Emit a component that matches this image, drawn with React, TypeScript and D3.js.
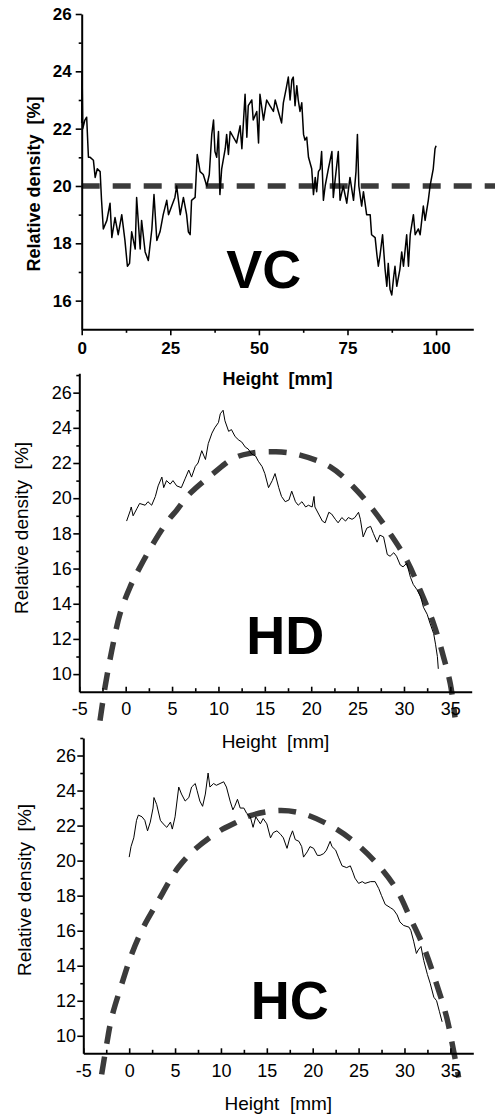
import React, { useEffect, useRef } from "react";
import * as d3 from "d3";

// density profiles: [height mm, relative density %]
const vcProfile = [
  [0, 22.2], [0.1, 24.0], [0.3, 22.0], [0.9, 22.3], [1.4, 22.4], [1.9, 21.0], [2.4, 21.0], [3.3, 20.9],
  [3.8, 20.3], [4.4, 20.6], [5.2, 20.5], [5.6, 19.5], [6.1, 18.5], [7.1, 18.8], [8.0, 19.4], [8.5, 18.2],
  [9.4, 18.9], [10.3, 18.3], [11.3, 19.0], [12.2, 18.1], [12.9, 17.2], [13.5, 17.3], [14.1, 18.4],
  [15.1, 17.8], [15.5, 19.6], [16.5, 17.8], [16.9, 18.8], [17.9, 17.7], [18.8, 17.4], [19.8, 18.5],
  [20.4, 19.7], [21.2, 18.1], [22.1, 18.4], [23.0, 19.0], [24.0, 19.5], [24.5, 19.0], [25.4, 19.3],
  [26.3, 19.6], [26.8, 20.0], [27.8, 19.0], [28.7, 19.6], [29.6, 19.0], [30.1, 18.4], [30.6, 18.3],
  [31.0, 19.5], [32.0, 19.6], [32.6, 21.1], [33.4, 20.5], [34.3, 20.4], [35.3, 20.0], [36.0, 20.4],
  [36.7, 21.8], [37.2, 22.3], [37.6, 21.2], [38.1, 21.0], [38.6, 21.9], [39.0, 19.7], [39.5, 20.6],
  [40.5, 21.3], [40.9, 21.8], [41.4, 21.1], [41.9, 21.9], [42.8, 21.7], [43.7, 21.5], [44.7, 22.1],
  [45.2, 21.3], [46.1, 23.2], [46.6, 21.7], [47.0, 22.8], [48.0, 23.0], [48.4, 22.3], [49.4, 22.6],
  [49.9, 21.5], [50.3, 23.2], [51.3, 22.3], [52.2, 23.0], [53.1, 22.8], [54.1, 22.6], [54.6, 23.0],
  [55.5, 22.6], [56.4, 22.2], [56.9, 22.9], [57.7, 23.4], [58.3, 23.8], [58.8, 23.0], [59.3, 23.7],
  [59.7, 23.8], [60.2, 22.8], [60.7, 23.5], [61.1, 23.0], [61.6, 22.6], [62.1, 22.9], [62.6, 21.8],
  [63.0, 21.6], [63.5, 21.7], [64.0, 21.0], [64.9, 20.6], [65.4, 19.7], [65.9, 20.3], [66.3, 19.8],
  [66.8, 20.5], [67.3, 20.6], [67.7, 21.2], [68.2, 19.5], [68.7, 20.0], [69.6, 20.6], [70.6, 21.2],
  [71.0, 19.6], [71.5, 20.2], [72.4, 21.2], [72.9, 19.5], [73.8, 20.0], [74.8, 19.4], [75.7, 20.3],
  [76.7, 19.5], [77.4, 20.5], [77.8, 21.8], [78.2, 20.0], [79.0, 19.3], [79.5, 19.8], [80.4, 19.0],
  [81.4, 19.0], [81.8, 18.3], [82.8, 18.2], [83.3, 17.6], [83.7, 17.2], [84.2, 17.6], [84.9, 18.3],
  [85.6, 17.1], [86.1, 16.5], [86.5, 17.3], [87.0, 16.4], [87.5, 16.2], [88.0, 16.8], [88.4, 17.2],
  [88.9, 16.5], [89.8, 17.1], [90.3, 17.7], [90.8, 17.2], [91.7, 18.3], [92.2, 17.2], [92.7, 18.3],
  [93.6, 19.0], [94.1, 18.3], [95.0, 18.5], [95.5, 18.3], [96.4, 19.3], [96.9, 18.8], [97.8, 19.5],
  [98.3, 20.0], [99.2, 20.6], [99.7, 21.3], [100, 21.4],
];

const hdProfile = [
  [0.1, 18.7], [0.5, 19.3], [0.6, 19.5], [0.8, 19.0], [1.2, 19.4], [1.5, 19.7], [2.1, 19.6], [2.4, 19.8],
  [2.8, 19.6], [3.2, 20.1], [3.5, 20.7], [3.9, 21.2], [4.1, 20.6], [4.4, 21.0], [4.8, 20.8], [5.1, 21.0],
  [5.5, 20.7], [6.0, 20.6], [6.4, 21.1], [6.8, 21.6], [7.1, 21.2], [7.5, 21.8], [7.8, 22.0], [8.2, 22.7],
  [8.6, 22.2], [8.9, 23.1], [9.3, 23.7], [9.6, 24.0], [10.0, 24.3], [10.2, 24.8], [10.5, 25.0],
  [10.7, 24.4], [11.1, 23.8], [11.4, 23.9], [11.8, 23.5], [12.2, 23.3], [12.5, 23.2], [12.9, 22.9],
  [13.2, 22.8], [13.6, 22.5], [14.0, 22.4], [14.3, 22.1], [14.7, 21.8], [15.0, 21.4], [15.4, 20.6],
  [15.8, 21.0], [16.1, 21.4], [16.5, 20.6], [16.8, 20.1], [17.2, 19.8], [17.6, 19.9], [17.9, 20.4],
  [18.3, 19.8], [18.6, 19.6], [19.0, 19.8], [19.4, 19.5], [19.7, 19.6], [20.1, 19.5], [20.3, 20.1],
  [20.4, 19.5], [20.8, 19.1], [21.2, 18.7], [21.5, 18.6], [21.9, 19.2], [22.2, 19.1], [22.6, 18.8],
  [22.9, 18.6], [23.3, 18.9], [23.7, 18.7], [24.0, 18.9], [24.4, 18.8], [24.7, 18.9], [25.1, 19.2],
  [25.3, 18.8], [25.6, 17.8], [26.0, 18.3], [26.4, 18.4], [26.7, 18.0], [27.1, 17.5], [27.4, 17.9],
  [27.8, 17.8], [28.2, 16.8], [28.5, 16.7], [28.9, 16.9], [29.2, 16.7], [29.6, 16.2], [29.9, 16.1],
  [30.3, 16.3], [30.7, 15.5], [31.0, 15.1], [31.4, 14.8], [31.8, 14.4], [32.1, 13.8], [32.5, 13.4],
  [32.8, 12.9], [33.2, 12.3], [33.4, 11.7], [33.6, 11.0], [33.7, 10.3],
];

const hcProfile = [
  [0.0, 20.2], [0.2, 20.8], [0.5, 21.3], [0.8, 22.3], [1.0, 22.6], [1.4, 22.5], [1.7, 22.3], [2.0, 21.7],
  [2.3, 22.2], [2.6, 23.0], [2.7, 23.6], [3.0, 23.2], [3.4, 22.3], [3.7, 22.1], [4.1, 21.9], [4.5, 22.2],
  [4.7, 21.8], [5.0, 22.5], [5.4, 24.2], [5.7, 23.8], [6.1, 23.4], [6.5, 23.6], [6.8, 24.2], [7.2, 24.4],
  [7.4, 24.0], [7.7, 23.4], [8.0, 23.1], [8.3, 23.8], [8.5, 24.6], [8.6, 25.0], [8.8, 24.2], [9.2, 24.4],
  [9.5, 24.3], [9.9, 24.4], [10.3, 24.5], [10.6, 24.2], [11.0, 23.4], [11.3, 22.9], [11.5, 23.1],
  [11.8, 23.5], [12.1, 23.0], [12.5, 23.0], [12.8, 22.7], [13.2, 22.5], [13.5, 21.9], [13.8, 22.5],
  [14.3, 22.1], [14.6, 22.4], [15.0, 22.1], [15.4, 21.3], [15.7, 21.6], [16.1, 21.7], [16.5, 21.5],
  [16.8, 21.3], [17.2, 20.7], [17.5, 21.3], [17.8, 21.7], [18.1, 21.2], [18.5, 21.1], [18.8, 20.8],
  [19.0, 20.2], [19.4, 20.5], [19.7, 20.8], [20.1, 20.7], [20.5, 20.3], [20.8, 20.3], [21.2, 20.4],
  [21.5, 20.6], [21.9, 21.1], [22.1, 20.8], [22.5, 20.6], [22.8, 20.2], [23.2, 19.7], [23.7, 19.6],
  [24.1, 19.7], [24.4, 19.3], [24.6, 19.0], [25.0, 18.7], [25.4, 18.8], [25.7, 18.7], [26.3, 18.8],
  [26.8, 18.8], [27.2, 18.4], [27.5, 18.0], [27.9, 17.5], [28.5, 17.3], [28.8, 17.2], [29.2, 16.9],
  [29.5, 16.5], [29.9, 16.3], [30.5, 16.2], [30.7, 16.0], [31.0, 15.4], [31.3, 14.7], [31.5, 14.9],
  [31.8, 15.1], [32.1, 14.3], [32.5, 13.5], [32.8, 13.0], [33.2, 12.2], [33.5, 12.0], [33.8, 11.4],
  [34.1, 10.8],
];

// dashed reference curves
const vcReference = 20;
const vcReferenceSpan = [0, 117];

const hdFit = [
  [-2.77, 7.35], [-2.23, 9.25], [-1.5, 11.34], [-0.61, 13.43], [0.47, 14.95], [1.55, 16.09],
  [3.17, 17.6], [4.6, 18.75], [5.5, 19.32], [6.94, 20.27], [9.45, 21.41], [11.6, 22.26], [13.4, 22.55],
  [16.2, 22.64], [18.8, 22.45], [22.05, 21.78], [24.56, 20.64], [26.7, 19.32], [28.5, 17.99],
  [30.3, 16.47], [31.75, 14.76], [33.2, 12.86], [34.27, 10.96], [35.0, 9.44], [35.5, 7.54],
];

const hcFit = [
  [-3.0, 7.8], [-2.45, 9.53], [-1.9, 11.05], [-0.81, 12.95], [0.28, 14.67], [1.54, 16.19],
  [3.18, 17.71], [4.64, 19.05], [5.36, 19.62], [7.0, 20.57], [9.9, 21.71], [11.7, 22.19], [13.2, 22.57],
  [16.45, 22.86], [19.0, 22.67], [22.26, 21.9], [24.8, 20.95], [27.35, 19.62], [29.2, 18.29],
  [30.6, 16.76], [32.1, 15.05], [33.5, 12.95], [34.6, 11.05], [35.35, 9.14], [35.9, 7.62],
];

// tick values
const vcXTicks = [0, 25, 50, 75, 100];
const vcXMinor = [12.5, 37.5, 62.5, 87.5];
const vcYTicks = [16, 18, 20, 22, 24, 26];
const vcYMinor = [17, 19, 21, 23, 25];
const hXTicks = [-5, 0, 5, 10, 15, 20, 25, 30, 35];
const hXMinor = [-2.5, 2.5, 7.5, 12.5, 17.5, 22.5, 27.5, 32.5];
const hYTicks = [10, 12, 14, 16, 18, 20, 22, 24, 26];
const hYMinor = [11, 13, 15, 17, 19, 21, 23, 25, 27];

const FONT = "'Liberation Sans', Arial, Helvetica, sans-serif";

const panels = [
  {
    name: "VC", labelAt: [51.4, 16.45], bold: true,
    profile: vcProfile, fit: null, profileWidth: 1.5,
    xDomain: [0, 110.5], xRange: [81.7, 473.3],
    yDomain: [15, 26], yRange: [329.3, 14],
    xTicks: vcXTicks, xMinor: vcXMinor, yTicks: vcYTicks, yMinor: vcYMinor,
    xTickIn: false, tickFont: 17, titleFont: 18,
    yPad: 4, xLabelGap: 24.7, xTitleBase: 385, yTitleX: 40, yTitleY: 184,
  },
  {
    name: "HD", labelAt: [17.2, 11.17], bold: false,
    profile: hdProfile, fit: hdFit, profileWidth: 1,
    xDomain: [-5, 37.3], xRange: [79.3, 471.7],
    yDomain: [9, 27.1], yRange: [691.7, 373.3],
    xTicks: hXTicks, xMinor: hXMinor, yTicks: hYTicks, yMinor: hYMinor,
    xTickIn: true, tickFont: 18, titleFont: 19,
    yPad: 1.6, xLabelGap: 23.3, xTitleBase: 748, yTitleX: 28, yTitleY: 528,
  },
  {
    name: "HC", labelAt: [17.5, 10.97], bold: false,
    profile: hcProfile, fit: hcFit, profileWidth: 1,
    xDomain: [-5, 37.5], xRange: [83.3, 473.3],
    yDomain: [9, 27], yRange: [1053.3, 738],
    xTicks: hXTicks, xMinor: hXMinor, yTicks: hYTicks, yMinor: hYMinor,
    xTickIn: true, tickFont: 18, titleFont: 19,
    yPad: 1.3, xLabelGap: 23.4, xTitleBase: 1110, yTitleX: 31, yTitleY: 890,
  },
];

// plain hyphen for negatives, like the original
const plain = (d) => String(d);

function drawPanel(svg, p) {
  const x = d3.scaleLinear().domain(p.xDomain).range(p.xRange);
  const y = d3.scaleLinear().domain(p.yDomain).range(p.yRange);
  const weight = p.bold ? "bold" : "normal";

  const g = svg.append("g").attr("font-family", FONT).attr("font-weight", weight);

  const dashStyle = (sel) =>
    sel
      .attr("fill", "none")
      .attr("stroke", "#3b3b3b")
      .attr("stroke-width", 5.5)
      .attr("stroke-dasharray", "18,13");

  // dashed reference
  if (p.fit) {
    const fitLine = d3
      .line()
      .x((d) => x(d[0]))
      .y((d) => y(d[1]))
      .curve(d3.curveCatmullRom);
    g.append("path").attr("d", fitLine(p.fit)).call(dashStyle);
  } else {
    g.append("line")
      .attr("x1", x(vcReferenceSpan[0]))
      .attr("x2", x(vcReferenceSpan[1]))
      .attr("y1", y(vcReference))
      .attr("y2", y(vcReference))
      .call(dashStyle);
  }

  // measured profile
  const line = d3
    .line()
    .x((d) => x(d[0]))
    .y((d) => y(d[1]));
  g.append("path")
    .attr("d", line(p.profile))
    .attr("fill", "none")
    .attr("stroke", "#000")
    .attr("stroke-width", p.profileWidth)
    .attr("stroke-linejoin", "round");

  // y axis
  const yAxis = g
    .append("g")
    .attr("transform", `translate(${p.xRange[0]},0)`)
    .call(
      d3
        .axisLeft(y)
        .tickValues(p.yTicks)
        .tickFormat(plain)
        .tickSize(6)
        .tickSizeOuter(0)
        .tickPadding(p.yPad)
    );
  g.append("g")
    .attr("transform", `translate(${p.xRange[0]},0)`)
    .call(d3.axisLeft(y).tickValues(p.yMinor).tickSize(3).tickFormat(() => ""))
    .call((a) => a.select(".domain").remove());

  // x axis
  const xAxis = g
    .append("g")
    .attr("transform", `translate(0,${p.yRange[0]})`)
    .call(
      d3
        .axisBottom(x)
        .tickValues(p.xTicks)
        .tickFormat(plain)
        .tickSizeInner(p.xTickIn ? -5 : 6)
        .tickSizeOuter(0)
        .tickPadding(p.xLabelGap - (p.xTickIn ? 0 : 6) - 0.71 * p.tickFont)
    );
  g.append("g")
    .attr("transform", `translate(0,${p.yRange[0]})`)
    .call(d3.axisBottom(x).tickValues(p.xMinor).tickSize(p.xTickIn ? -3.5 : 3.5).tickFormat(() => ""))
    .call((a) => a.select(".domain").remove());

  g.selectAll(".domain").attr("stroke", "#000").attr("stroke-width", 2);
  g.selectAll(".tick line").attr("stroke", "#000").attr("stroke-width", 1.6);
  [yAxis, xAxis].forEach((a) =>
    a
      .attr("font-family", FONT)
      .attr("font-size", p.tickFont)
      .attr("font-weight", weight)
      .selectAll("text")
      .attr("fill", "#000")
  );

  // titles
  g.append("text")
    .attr("x", (p.xRange[0] + p.xRange[1]) / 2)
    .attr("y", p.xTitleBase)
    .attr("text-anchor", "middle")
    .attr("font-size", p.titleFont)
    .style("white-space", "pre")
    .text("Height  [mm]");

  g.append("text")
    .attr("transform", `translate(${p.yTitleX},${p.yTitleY}) rotate(-90)`)
    .attr("text-anchor", "middle")
    .attr("font-size", p.titleFont)
    .style("white-space", "pre")
    .text("Relative density  [%]");

  // sample label
  g.append("text")
    .attr("x", x(p.labelAt[0]))
    .attr("y", y(p.labelAt[1]))
    .attr("text-anchor", "middle")
    .attr("font-size", 54)
    .attr("font-weight", "bold")
    .text(p.name);
}

export default function App() {
  const svgRef = useRef(null);

  useEffect(() => {
    const svg = d3.select(svgRef.current);
    svg.selectAll("*").remove();
    panels.forEach((p) => drawPanel(svg, p));
  }, []);

  return (
    <svg
      ref={svgRef}
      width={495}
      height={1114}
      style={{ position: "absolute", left: 0, top: 0, background: "#fff" }}
    />
  );
}
